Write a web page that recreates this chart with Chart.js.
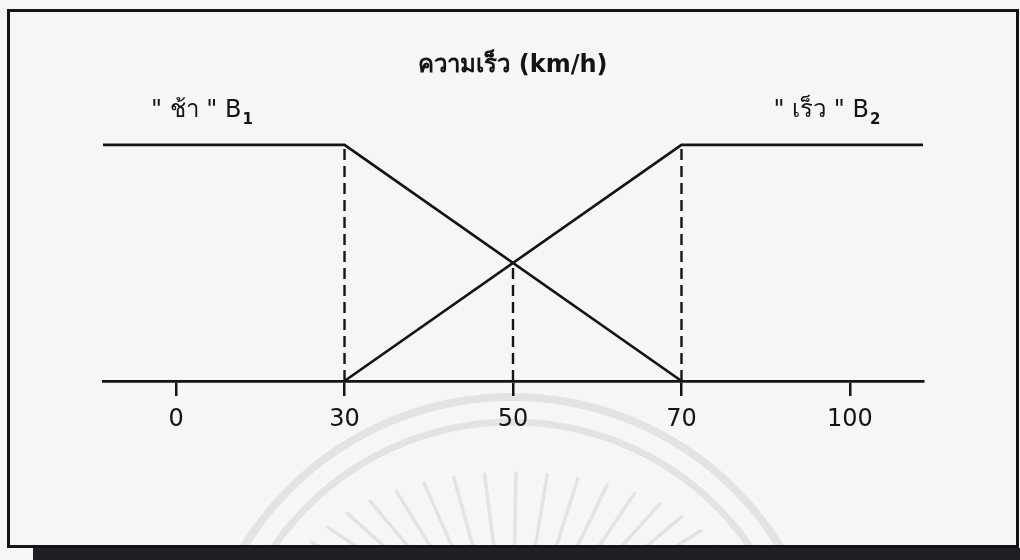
<!DOCTYPE html>
<html>
<head>
<meta charset="utf-8">
<script src="https://cdn.jsdelivr.net/npm/chart.js@4"></script>
<style>
  html, body { margin: 0; padding: 0; background: #f6f5f8; }
  canvas { display: block; }
</style>
</head>
<body>
<canvas id="speed_chart" width="1020" height="560"></canvas>
<script>
// speed values (km/h) shown under the axis, drawn equally spaced
const speedTicks = [0, 30, 50, 70, 100];
// the axis runs a bit past 0 and 100
const axisEnds = [-13, 113];
// "slow" membership B1
const slowSpeed = [-13, 30, 70];
const slowGrade = [1, 1, 0];
// "fast" membership B2
const fastSpeed = [30, 70, 113];
const fastGrade = [0, 1, 1];
// dashed guides, from the axis up to the curves
const guideSpeed = [30, 50, 70];
const guideGrade = [1, 0.5, 1];

const titleText = 'ความเร็ว (km/h)';
const slowLabel = ['" ช้า " B', '1'];
const fastLabel = ['" เร็ว " B', '2'];

const FONT = "'DejaVu Sans', 'Noto Sans', sans-serif";
const INK = '#141414';

// place a speed on the schematic axis (ticks are equally spaced)
function toPos(v) {
    const t = speedTicks;
    let k = 0;
    if (v >= t[t.length - 1]) k = t.length - 2;
    else while (k < t.length - 2 && v > t[k + 1]) k++;
    return k + (v - t[k]) / (t[k + 1] - t[k]);
}

function toPoints(xs, ys) {
    return xs.map((v, i) => ({ x: toPos(v), y: ys[i] }));
}

var datasets = [
    { label: 'slow', data: toPoints(slowSpeed, slowGrade) },
    { label: 'fast', data: toPoints(fastSpeed, fastGrade) }
];
guideSpeed.forEach(function (v, i) {
    datasets.push({
        label: 'guide ' + v,
        data: toPoints([v, v], [0, guideGrade[i]]),
        borderDash: [11, 6],
        borderWidth: 2.4
    });
});
datasets.forEach(function (d) {
    d.borderColor = INK;
    d.borderWidth = d.borderWidth || 2.7;
    d.pointRadius = 0;
    d.tension = 0;
    d.fill = false;
    d.clip = false;
});

// paper, scan strip, faint watermark and frame
const paperPlugin = {
    id: 'paper',
    beforeDraw(chart) {
        const ctx = chart.ctx;
        ctx.save();
        ctx.fillStyle = '#f6f5f8';
        ctx.fillRect(0, 0, chart.width, chart.height);

        // watermark
        ctx.strokeStyle = 'rgba(0,0,0,0.075)';
        ctx.lineWidth = 8;
        ctx.beginPath();
        ctx.arc(512, 712, 315, Math.PI, 2 * Math.PI);
        ctx.stroke();
        ctx.lineWidth = 7;
        ctx.beginPath();
        ctx.arc(512, 712, 290, Math.PI, 2 * Math.PI);
        ctx.stroke();
        ctx.lineWidth = 3.5;
        ctx.lineCap = 'round';
        for (let a = 25; a <= 155; a += 8) {
            const r = a * Math.PI / 180;
            ctx.beginPath();
            ctx.moveTo(512 + 140 * Math.cos(r), 600 - 45 * Math.sin(r));
            ctx.lineTo(512 + 225 * Math.cos(r), 600 - 127 * Math.sin(r));
            ctx.stroke();
        }
        // scan strip at the bottom
        ctx.fillStyle = '#1f1f24';
        ctx.fillRect(33, 548, chart.width - 33, chart.height - 548);

        ctx.strokeStyle = INK;
        ctx.lineWidth = 3;
        ctx.strokeRect(8.5, 10.5, 1009, 536);
        ctx.restore();
    }
};

// "slow" B1 / "fast" B2 labels with subscripts
function drawLabel(ctx, parts, x, y) {
    ctx.font = '24px ' + FONT;
    ctx.textBaseline = 'middle';
    ctx.textAlign = 'left';
    ctx.fillText(parts[0], x, y);
    const w = ctx.measureText(parts[0]).width;
    ctx.font = 'bold 15px ' + FONT;
    ctx.fillText(parts[1], x + w + 1, y + 9);
}

const labelPlugin = {
    id: 'labels',
    afterDraw(chart) {
        const ctx = chart.ctx;
        const xs = chart.scales.x, ys = chart.scales.y;
        const top = ys.getPixelForValue(1) - 34;
        ctx.save();
        ctx.fillStyle = INK;
        drawLabel(ctx, slowLabel, chart.chartArea.left + 48, top);
        drawLabel(ctx, fastLabel, xs.getPixelForValue(toPos(70)) + 92, top);
        ctx.restore();
    }
};

var ctx = document.getElementById('speed_chart').getContext('2d');
var myChart = new Chart(ctx, {
    type: 'line',
    data: { datasets: datasets },
    options: {
        responsive: false,
        animation: false,
        layout: { padding: { left: 103, right: 97, top: 51, bottom: 119 } },
        plugins: {
            legend: { display: false },
            tooltip: { enabled: false },
            title: {
                display: true,
                text: titleText,
                color: INK,
                font: { family: FONT, size: 24, weight: 'bold' },
                padding: { top: 0, bottom: 65 }
            }
        },
        scales: {
            x: {
                type: 'linear',
                min: toPos(axisEnds[0]),
                max: toPos(axisEnds[1]),
                afterBuildTicks: function (s) {
                    s.ticks = speedTicks.map((v, i) => ({ value: i }));
                },
                afterFit: function (s) { s.height = 60; },
                ticks: {
                    color: INK,
                    padding: 9,
                    font: { family: FONT, size: 24 },
                    callback: (value, index) => speedTicks[index]
                },
                grid: {
                    drawOnChartArea: false,
                    drawTicks: true,
                    tickLength: 15,
                    color: INK,
                    lineWidth: 2.5
                },
                border: { display: true, color: INK, width: 2.7 }
            },
            y: { display: false, min: 0, max: 1 }
        }
    },
    plugins: [paperPlugin, labelPlugin]
});
</script>
</body>
</html>
